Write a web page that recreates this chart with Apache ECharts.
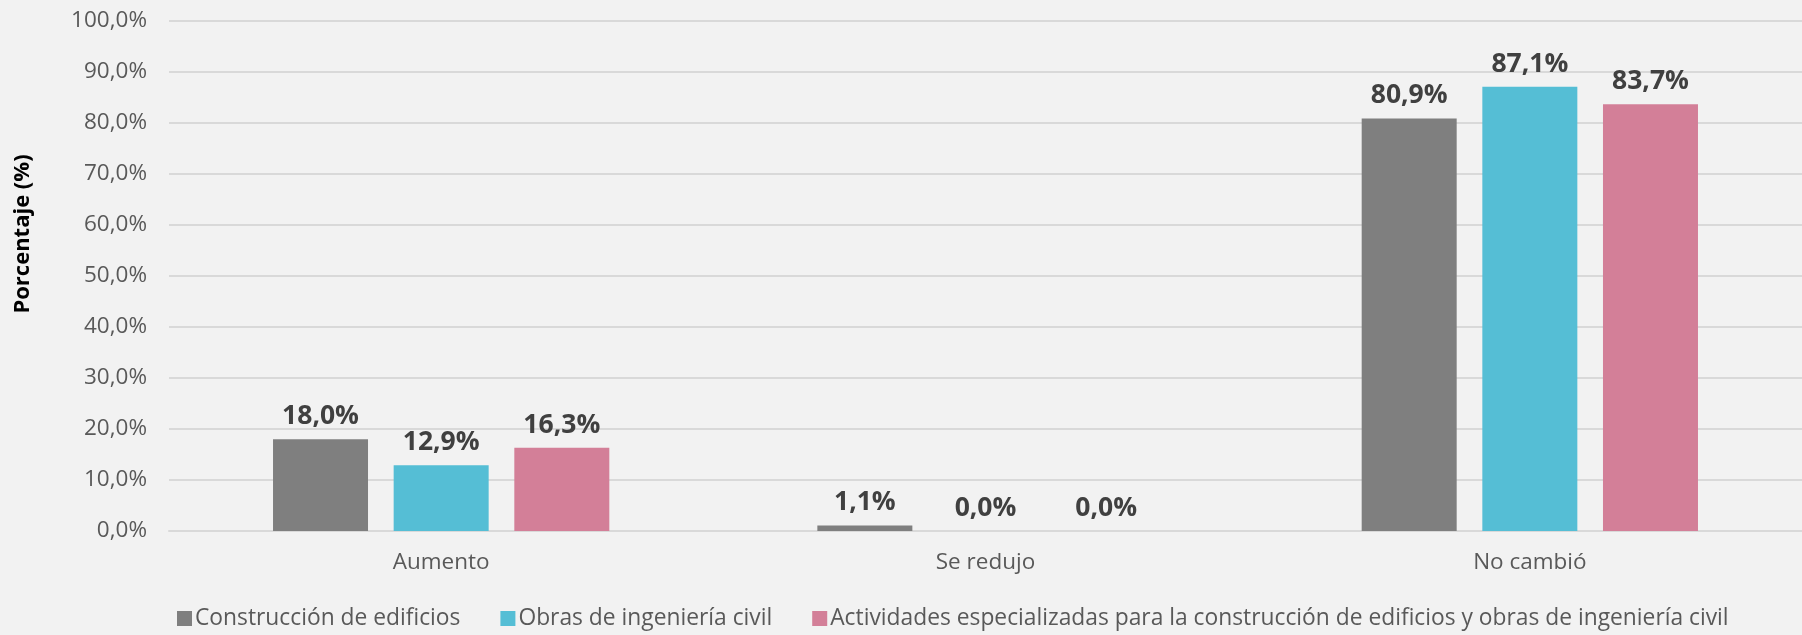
<!DOCTYPE html>
<html>
<head>
<meta charset="utf-8">
<script src="https://cdn.jsdelivr.net/npm/echarts@6/dist/echarts.min.js"></script>
<style>
  html, body { margin: 0; padding: 0; background: #F2F2F2; }
  #chart { width: 1802px; height: 635px; }
</style>
</head>
<body>
<div id="chart"></div>
<script>
// datos
const categorias = ["Aumento", "Se redujo", "No cambió"];
const nombresSeries = [
  "Construcción de edificios",
  "Obras de ingeniería civil",
  "Actividades especializadas para la construcción de edificios y obras de ingeniería civil"
];
const construccion = [18.0, 1.1, 80.9];
const obrasCiviles = [12.9, 0.0, 87.1];
const especializadas = [16.3, 0.0, 83.7];
const colores = ["#7F7F7F", "#55BED5", "#D37F98"];

const fuente = "'Open Sans', 'Noto Sans', sans-serif";
const fmt = v => v.toFixed(1).replace(".", ",") + "%";

let chart = echarts.init(document.getElementById("chart"));

let serie = (nombre, datos, i) => ({
  name: nombre,
  type: "bar",
  data: datos,
  barWidth: 95,
  barGap: "27%",
  itemStyle: {color: colores[i]},
  label: {
    show: true,
    position: "top",
    distance: 9,
    formatter: p => fmt(p.value),
    color: "#404040",
    fontFamily: fuente,
    fontWeight: "bold",
    fontSize: 26.5
  }
});

let options = {
  backgroundColor: "#F2F2F2",
  animation: false,
  textStyle: {fontFamily: fuente},
  grid: {left: 169, width: 1638, top: 21, height: 510},
  legend: {
    bottom: 0,
    left: 172,
    itemWidth: 15,
    itemHeight: 15,
    itemGap: 40,
    icon: "rect",
    textStyle: {color: "#595959", fontSize: 22.8, fontFamily: fuente, padding: [0, 0, 0, -2]},
    data: nombresSeries
  },
  graphic: [{
    type: "text",
    x: 23,
    y: 234,
    rotation: Math.PI / 2,
    style: {
      text: "Porcentaje (%)",
      fill: "#000",
      font: "bold 22px " + fuente,
      align: "center",
      verticalAlign: "middle"
    }
  }],
  xAxis: {
    type: "category",
    data: categorias,
    axisLine: {lineStyle: {color: "#D9D9D9", width: 2}},
    axisTick: {show: false},
    axisLabel: {color: "#595959", fontSize: 22.5, margin: 20, fontFamily: fuente}
  },
  yAxis: {
    type: "value",
    min: 0,
    max: 100,
    interval: 10,
    axisLine: {show: false},
    axisTick: {show: false},
    axisLabel: {color: "#595959", fontSize: 22.5, margin: 22, formatter: v => fmt(v), fontFamily: fuente},
    splitLine: {lineStyle: {color: "#D9D9D9", width: 2}}
  },
  series: [
    serie(nombresSeries[0], construccion, 0),
    serie(nombresSeries[1], obrasCiviles, 1),
    serie(nombresSeries[2], especializadas, 2)
  ]
};
chart.setOption(options);
</script>
</body>
</html>
